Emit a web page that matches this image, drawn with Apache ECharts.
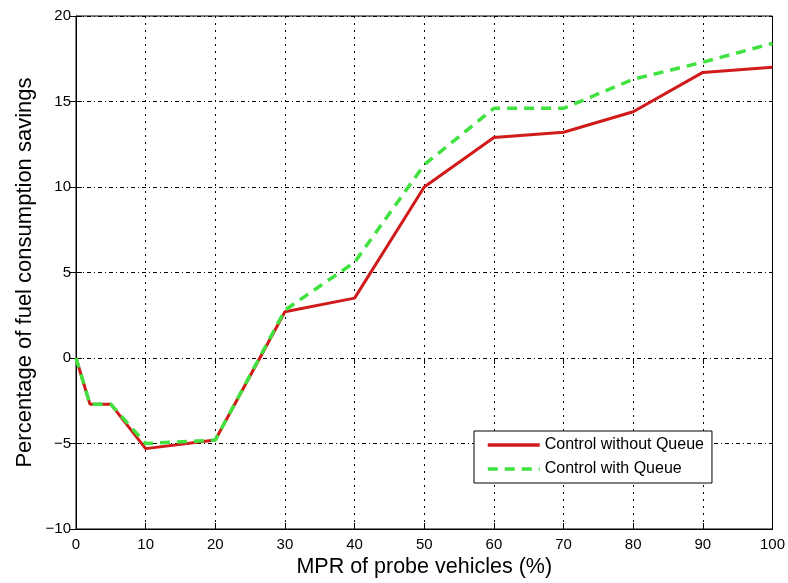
<!DOCTYPE html>
<html>
<head>
<meta charset="utf-8">
<script src="https://cdn.jsdelivr.net/npm/echarts@6/dist/echarts.min.js"></script>
<style>
  html, body { margin: 0; padding: 0; background: #fff; }
  #chart { width: 788px; height: 583px; }
</style>
</head>
<body>
<div id="chart"></div>
<script>
// Market penetration rate of probe vehicles (%)
const mpr = [0, 2, 5, 10, 20, 30, 40, 50, 60, 70, 80, 90, 100];
// Fuel consumption savings (%) for each control strategy
const withoutQueue = [0, -2.7, -2.7, -5.3, -4.8, 2.7, 3.5, 10.0, 12.9, 13.2, 14.4, 16.7, 17.0];
const withQueue = [0, -2.7, -2.7, -5.0, -4.8, 2.8, 5.6, 11.3, 14.6, 14.6, 16.3, 17.3, 18.4];
const seriesNames = ['Control without Queue', 'Control with Queue'];

const FONT = 'Liberation Sans, Arial, Helvetica, sans-serif';
const pairs = (ys) => mpr.map((x, i) => [x, ys[i]]);
const minus = (v) => String(v).replace('-', '\u2212');

const chart = echarts.init(document.getElementById('chart'));

const gridDots = { show: true, lineStyle: { color: '#000', width: 1, type: [2, 5] } };
const hiddenSide = (pos, min, max, interval) => ({
  type: 'value', position: pos, min, max, interval,
  axisLine: { show: false },
  axisTick: { show: true, inside: true, length: 6, lineStyle: { color: '#000' } },
  axisLabel: { show: false },
  splitLine: { show: false }
});

chart.setOption({
  animation: false,
  backgroundColor: '#fff',
  grid: {
    left: 76, right: 13, top: 16, bottom: 50,
    show: true, borderColor: '#000', borderWidth: 1, backgroundColor: '#fff'
  },
  legend: {
    orient: 'vertical',
    left: 474, top: 431,
    padding: [6, 8, 6, 12],
    backgroundColor: '#fff',
    borderColor: '#000', borderWidth: 1, borderRadius: 0,
    itemWidth: 52, itemHeight: 14, itemGap: 8,
    // legend keys show only the line stroke, no marker
    itemStyle: { opacity: 0 },
    lineStyle: { width: 3.5 },
    textStyle: { fontFamily: FONT, fontSize: 16, color: '#000', lineHeight: 16 },
    data: seriesNames
  },
  xAxis: [{
    type: 'value', min: 0, max: 100, interval: 10,
    name: 'MPR of probe vehicles (%)',
    nameLocation: 'middle', nameGap: 27, nameMoveOverlap: false,
    nameTextStyle: { fontFamily: FONT, fontSize: 21.5, color: '#000' },
    axisLine: { show: true, onZero: false, lineStyle: { color: '#000' } },
    axisTick: { show: true, inside: true, length: 6, lineStyle: { color: '#000' } },
    axisLabel: { fontFamily: FONT, fontSize: 15, color: '#000', margin: 8 },
    splitLine: gridDots
  }, hiddenSide('top', 0, 100, 10)],
  yAxis: [{
    type: 'value', min: -10, max: 20, interval: 5,
    name: 'Percentage of fuel consumption savings',
    nameLocation: 'middle', nameGap: 40, nameMoveOverlap: false,
    nameTextStyle: { fontFamily: FONT, fontSize: 22, color: '#000' },
    axisLine: { show: true, onZero: false, lineStyle: { color: '#000' } },
    axisTick: { show: true, inside: true, length: 6, lineStyle: { color: '#000' } },
    axisLabel: { fontFamily: FONT, fontSize: 15, color: '#000', margin: 5, formatter: minus },
    splitLine: { show: true, lineStyle: { color: '#000', width: 1, type: [4, 3, 1, 3] } }
  }, hiddenSide('right', -10, 20, 5)],
  series: [{
    name: seriesNames[0],
    type: 'line',
    data: pairs(withoutQueue),
    symbol: 'none',
    color: '#d11a1a',
    lineStyle: { color: '#d11a1a', width: 3 },
    z: 3
  }, {
    name: seriesNames[1],
    type: 'line',
    data: pairs(withQueue),
    symbol: 'none',
    color: '#3fe23f',
    lineStyle: { color: '#3fe23f', width: 3.5, type: [10, 7] },
    z: 4
  }]
});
</script>
</body>
</html>
